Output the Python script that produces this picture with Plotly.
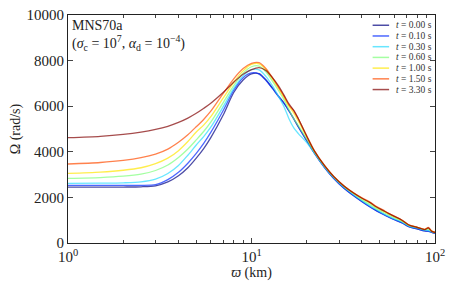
import plotly.graph_objects as go

radius_km = [1, 1.5, 2, 2.5, 3, 3.5, 4, 4.5, 5, 5.5, 6, 7, 8, 9, 10, 11, 12, 13, 14, 15, 16, 17, 18,
             20, 22, 25, 28, 32, 36, 40, 44, 48, 52, 56, 60, 66, 72, 80, 88, 92, 96, 100]

labels = ["<i>t</i> = 0.00 s", "<i>t</i> = 0.10 s", "<i>t</i> = 0.30 s", "<i>t</i> = 0.60 s",
          "<i>t</i> = 1.00 s", "<i>t</i> = 1.50 s", "<i>t</i> = 3.30 s"]

omega_t000 = [2450, 2450, 2455, 2465, 2510, 2680, 2950, 3300, 3720, 4150, 4620, 5600, 6600, 7150, 7420, 7430, 7150,
              6800, 6450, 6150, 5800, 5450, 5100, 4500, 3950, 3320, 2850, 2400, 2080, 1820, 1600, 1420, 1270,
              1140, 1030, 890, 720, 620, 530, 520, 470, 420]
omega_t010 = [2530, 2530, 2530, 2530, 2560, 2780, 3100, 3500, 3930, 4380, 4850, 5800, 6700, 7250, 7460, 7410, 7130,
              6780, 6430, 6130, 5790, 5440, 5090, 4480, 3940, 3310, 2840, 2390, 2070, 1810, 1590, 1410, 1260,
              1130, 1020, 880, 720, 620, 530, 510, 470, 430]
omega_t030 = [2615, 2625, 2640, 2680, 2800, 3050, 3400, 3850, 4300, 4680, 5080, 5970, 6780, 7330, 7600, 7590, 7300,
              6900, 6450, 6000, 5450, 5050, 4800, 4400, 3950, 3330, 2870, 2430, 2120, 1860, 1640, 1460, 1300,
              1170, 1060, 920, 740, 650, 560, 540, 490, 440]
omega_t060 = [2835, 2870, 2930, 3020, 3180, 3420, 3750, 4120, 4520, 4900, 5300, 6150, 6900, 7450, 7730, 7760, 7500,
              7100, 6700, 6300, 5850, 5450, 5150, 4550, 4000, 3370, 2900, 2470, 2160, 1900, 1700, 1510, 1360,
              1220, 1110, 960, 770, 680, 590, 600, 510, 460]
omega_t100 = [3055, 3110, 3190, 3300, 3480, 3720, 4050, 4450, 4870, 5180, 5540, 6350, 7050, 7550, 7830, 7860, 7600,
              7200, 6800, 6400, 6000, 5700, 5350, 4650, 4030, 3390, 2920, 2490, 2190, 1950, 1780, 1560, 1420,
              1270, 1150, 990, 790, 690, 600, 650, 520, 470]
omega_t150 = [3465, 3530, 3620, 3740, 3900, 4120, 4420, 4750, 5100, 5430, 5780, 6550, 7200, 7650, 7880, 7910, 7650,
              7250, 6850, 6450, 6050, 5800, 5450, 4700, 4050, 3400, 2930, 2500, 2200, 1980, 1810, 1600, 1450,
              1300, 1180, 1010, 800, 690, 600, 680, 520, 470]
omega_t330 = [4620, 4680, 4760, 4860, 4980, 5120, 5290, 5480, 5690, 5910, 6130, 6600, 7050, 7400, 7600, 7690, 7560,
              7250, 6900, 6500, 6100, 5820, 5450, 4680, 4040, 3390, 2920, 2490, 2190, 1960, 1780, 1580, 1430,
              1290, 1170, 1000, 790, 680, 590, 660, 510, 460]

series = [omega_t000, omega_t010, omega_t030, omega_t060, omega_t100, omega_t150, omega_t330]
colors = ["rgba(0,0,128,0.7)", "rgba(0,40,255,0.7)", "rgba(40,220,255,0.7)", "rgba(125,255,122,0.7)",
          "rgba(255,230,0,0.7)", "rgba(255,75,0,0.7)", "rgba(128,0,0,0.7)"]

x_tickvals = [1, 10, 100]
x_ticktext = ["10<sup>0</sup>", "10<sup>1</sup>", "10<sup>2</sup>"]
x_minor = [2, 3, 4, 5, 6, 7, 8, 9, 20, 30, 40, 50, 60, 70, 80, 90]
y_tickvals = [0, 2000, 4000, 6000, 8000, 10000]
y_ticktext = ["0", "2000", "4000", "6000", "8000", "10000"]

font_family = "Liberation Serif"

fig = go.Figure()
for vals, lab, col in zip(series, labels, colors):
    fig.add_trace(go.Scatter(x=radius_km, y=vals, mode="lines", name=lab, showlegend=False,
                             line=dict(color=col, width=1.3, shape="spline", smoothing=0.8)))

# compact legend drawn as decorations (paper coordinates)
legend_shapes = []
legend_annots = []
leg_top = 0.955
leg_step = 0.047
for i, (lab, col) in enumerate(zip(labels, colors)):
    yy = leg_top - i * leg_step
    legend_shapes.append(dict(type="line", xref="paper", yref="paper", x0=0.83, x1=0.875, y0=yy, y1=yy,
                              line=dict(color=col, width=1.5)))
    legend_annots.append(dict(text=lab, xref="paper", yref="paper", x=0.888, y=yy, xanchor="left",
                              yanchor="middle", showarrow=False, font=dict(size=9.5, family=font_family, color="#333")))

fig.update_layout(
    width=450, height=278,
    margin=dict(l=60, r=23, t=7, b=43, autoexpand=False),
    paper_bgcolor="white", plot_bgcolor="white",
    font=dict(family=font_family, color="#222", size=14),
    showlegend=False,
    shapes=legend_shapes,
    annotations=[dict(text="MNS70a<br>(<i>σ</i><sub>c</sub> = 10<sup>7</sup>, <i>α</i><sub>d</sub> = 10<sup>−4</sup>)",
                      xref="paper", yref="paper", x=0.005, y=0.995, xanchor="left", yanchor="top",
                      showarrow=False, align="left", font=dict(size=14, family=font_family))] + legend_annots,
)
fig.update_xaxes(type="log", range=[0, 2], tickvals=x_tickvals, ticktext=x_ticktext, automargin=False,
                 ticklabeloverflow="allow",
                 ticks="inside", ticklen=5, showline=True, linecolor="#222", linewidth=1.2, mirror="ticks",
                 showgrid=False, zeroline=False, tickfont=dict(size=15, family=font_family),
                 minor=dict(tickvals=x_minor, ticks="inside", ticklen=3, showgrid=False),
                 title=dict(text="<i>ϖ</i> (km)", standoff=2, font=dict(size=14, family=font_family)))
fig.update_yaxes(range=[0, 10000], tickvals=y_tickvals, ticktext=y_ticktext, ticks="inside", ticklen=5,
                 automargin=False, ticklabeloverflow="allow",
                 showline=True, linecolor="#222", linewidth=1.2, mirror="ticks", showgrid=False, zeroline=False,
                 tickfont=dict(size=15, family=font_family),
                 title=dict(text="Ω (rad/s)", standoff=6, font=dict(size=14, family=font_family)))

fig.write_html("out.html")
